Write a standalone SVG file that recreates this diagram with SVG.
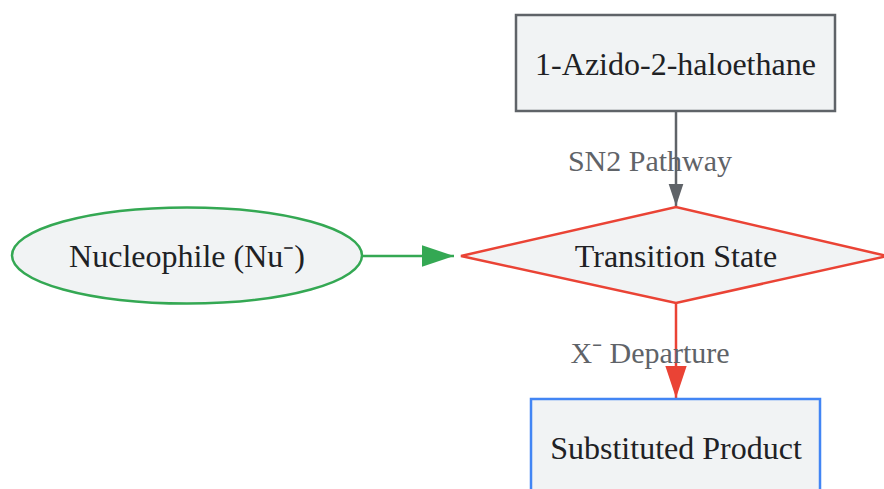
<svg xmlns="http://www.w3.org/2000/svg" width="884" height="489" viewBox="0 0 884 489">
<style>
.node{fill:#f1f3f4;stroke-width:2.5}
.lbl{font-family:"Liberation Serif",serif;font-size:32px;fill:#202124;text-anchor:middle;dominant-baseline:central}
.elbl{font-family:"Liberation Serif",serif;font-size:30px;fill:#5f6368;text-anchor:middle;dominant-baseline:central}
.edge{fill:none;stroke-width:2.5}
</style>
<defs>
<marker id="aGray" markerUnits="userSpaceOnUse" markerWidth="22" markerHeight="32" refX="30" refY="10" viewBox="0 0 30 20" orient="auto"><path d="M0,0 L30,10 L0,20 z" fill="#5f6368"/></marker>
<marker id="aGreen" markerUnits="userSpaceOnUse" markerWidth="32" markerHeight="22" refX="30" refY="10" viewBox="0 0 30 20" orient="auto"><path d="M0,0 L30,10 L0,20 z" fill="#34a853"/></marker>
<marker id="aRed" markerUnits="userSpaceOnUse" markerWidth="32" markerHeight="22" refX="30" refY="10" viewBox="0 0 30 20" orient="auto"><path d="M0,0 L30,10 L0,20 z" fill="#ea4335"/></marker>
</defs>
<rect width="884" height="489" fill="#ffffff"/>
<g id="connectors">
<line class="edge" x1="676" y1="111" x2="676" y2="206" stroke="#5f6368" marker-end="url(#aGray)"/>
<line class="edge" x1="362" y1="256" x2="454" y2="256" stroke="#34a853" marker-end="url(#aGreen)"/>
<line class="edge" x1="676" y1="303" x2="676" y2="398" stroke="#ea4335" marker-end="url(#aRed)"/>
<text class="elbl" x="650" y="160">SN2 Pathway</text>
<text class="elbl" x="650" y="352">X⁻ Departure</text>
</g>
<g id="azido">
<rect class="node" x="516" y="15" width="319" height="96" stroke="#5f6368"/>
<text class="lbl" x="675.5" y="64">1-Azido-2-haloethane</text>
</g>
<g id="nucleophile">
<ellipse class="node" cx="187" cy="255.5" rx="175" ry="48" stroke="#34a853"/>
<text class="lbl" x="187" y="256">Nucleophile (Nu⁻)</text>
</g>
<g id="transition">
<polygon class="node" points="461,256 676,207 887,256 676,303" stroke="#ea4335"/>
<text class="lbl" x="676" y="256">Transition State</text>
</g>
<g id="product">
<rect class="node" x="531" y="399" width="289" height="96" stroke="#4285f4"/>
<text class="lbl" x="676" y="448">Substituted Product</text>
</g>
</svg>
